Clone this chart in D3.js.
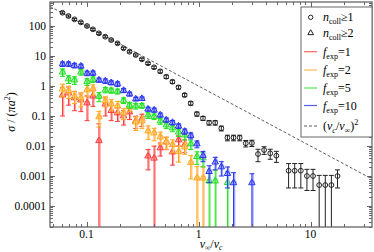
<!DOCTYPE html>
<html><head><meta charset="utf-8">
<script src="https://cdn.jsdelivr.net/npm/d3@7"></script>
<style>body{margin:0;background:#fff}svg{display:block;font-family:"Liberation Serif","DejaVu Serif",serif}</style>
</head><body><svg id="c" width="374" height="252"></svg>
<script>
// bin centres v_inf / v_c
const vBins = [0.061,0.069,0.078,0.089,0.101,0.114,0.129,0.147,0.166,0.189,0.214,0.242,0.275,0.312,0.354,0.401,0.455,0.515,0.585,0.663,0.752,0.852,0.967,1.096,1.243,1.409,1.598,1.812,2.055,2.330,2.642,2.996,3.398,3.853,4.369,4.955,5.618,6.371,7.224,8.192,9.290,10.53,11.95,13.55,15.36,17.42];
// n_coll >= 1 (all)
const allV = [277,215,167,133,100,77.6,57.1,44.0,34.1,26.5,18.1,13.9,10.8,7.76,5.71,4.20,3.09,2.04,1.39,0.905,0.501,0.265,0.117,0.0838,0.0598,0.0598,0.0389,0.0189,0.0189,0.0189,0.0123,0.0126,0.0054,0.00736,0.00571,0.00475,null,0.0015,0.0015,0.0015,0.001,0.001,0.0005,0.0005,0.0005,0.001];
const allE = [22,17,13,11,8,6.2,4.6,3.5,2.7,2.1,1.5,1.1,0.9,0.65,0.5,0.4,0.35,0.25,0.17,0.11,0.06,0.035,0.018,0.013,0.01,0.01,0.007,0.004,0.004,0.004,0.003,0.003,0.0024,0.0021,0.0021,0.0019,null,0.0011,0.0011,0.0011,0.00067,0.00067,0.00055,0.00055,0.00055,0.0006];
// f_exp = 1
const f1V = [0.50,0.58,0.40,0.34,0.27,0.46,0.015,0.25,0.15,0.126,0.10,0.136,0.068,0.08,0.0046,0.0039,0.0086,0.0136,0.0063,0.016,0.011];
const f1E = [0.4,0.35,0.25,0.2,0.2,0.25,0.04,0.15,0.08,0.06,0.05,0.06,0.03,0.035,0.003,0.006,0.004,0.006,0.004,0.006,0.005];
// f_exp = 2
const f2V = [0.79,0.68,0.46,0.40,0.74,0.79,0.093,0.32,0.25,0.215,0.126,0.20,0.063,0.068,0.0316,0.027,0.020,0.0136,0.011,0.0064,0.0093,0.0028,0.00085,0.00085];
const f2E = [0.35,0.3,0.2,0.2,0.3,0.3,0.05,0.12,0.1,0.09,0.05,0.06,0.03,0.03,0.015,0.012,0.009,0.006,0.005,0.0035,0.004,0.002,0.0012,0.0012];
// f_exp = 5
const f5V = [2.9,1.71,1.58,2.9,1.41,1.65,0.45,0.74,0.71,0.66,0.33,0.23,0.215,0.22,0.108,0.096,0.068,0.05,0.04,0.029,0.023,0.0117,0.0044,0.004,0.00068,0.00068,null,0.0006];
const f5E = [0.8,0.5,0.45,0.6,0.35,0.35,0.15,0.15,0.14,0.12,0.07,0.05,0.045,0.04,0.025,0.02,0.015,0.012,0.01,0.008,0.007,0.004,0.002,0.002,0.0009,0.0009,null,0.0008];
// f_exp = 10
const f10V = [5.4,5.4,4.8,4.6,2.65,2.7,1.58,1.47,1.29,1.17,0.71,0.54,0.37,0.38,0.17,0.158,0.108,0.074,0.0606,0.0464,0.0307,0.0223,0.0117,0.0048,0.0014,0.0029,0.002,0.0012,0.00059,null,null,0.00059];
const f10E = [0.9,0.9,0.8,0.7,0.45,0.45,0.25,0.25,0.2,0.2,0.11,0.08,0.05,0.05,0.025,0.025,0.017,0.012,0.01,0.008,0.006,0.005,0.003,0.0018,0.0008,0.0013,0.001,0.0008,0.0007,null,null,0.0006];
const xTicks = [0.1,1,10];
const xTickLabels = ["0.1","1","10"];
const yTicks = [0.0001,0.001,0.01,0.1,1,10,100];
const yTickLabels = ["0.0001","0.001","0.01","0.1","1","10","100"];
const seriesNames = ["1","2","5","10"];

const svg = d3.select("#c");
const L=50,R=372,T=2,B=227;
const x = d3.scaleLog().domain([0.0472,35.4]).range([L,R]);
const y = d3.scaleLog().domain([2e-5,631]).range([B,T]);

svg.append("defs").append("clipPath").attr("id","clip").append("rect")
  .attr("x",L).attr("y",T).attr("width",R-L).attr("height",B-T);
const plot = svg.append("g").attr("clip-path","url(#clip)");

// reference line
const lineX = [0.0472,35.4];
plot.append("path")
  .attr("d", d3.line().x(d=>x(d)).y(d=>y(1/(d*d)))(lineX))
  .attr("stroke","#333").attr("stroke-width",0.8).attr("stroke-dasharray","3,2").attr("fill","none");

function pts(vals, errs){
  const out=[];
  vals.forEach((v,i)=>{ if(v!=null) out.push({x:vBins[i],v:v,e:errs[i]}); });
  return out;
}
function drawSeries(data, col, light, kind){
  const g = plot.append("g");
  data.forEach(d=>{
    const cx = x(d.x);
    const yt = y(d.v+d.e);
    const low = d.v-d.e;
    const yb = low>2e-5 ? y(low) : B+2;
    if(light){
      g.append("line").attr("x1",cx+1).attr("x2",cx+1).attr("y1",yt-1).attr("y2",yb)
        .attr("stroke",light).attr("stroke-width",1.6);
      g.append("circle").attr("cx",cx+0.5).attr("cy",y(d.v)-0.5).attr("r",2.6).attr("fill",light).attr("stroke","none");
    }
    g.append("line").attr("x1",cx).attr("x2",cx).attr("y1",yt).attr("y2",yb)
      .attr("stroke",col).attr("stroke-width",1);
    g.append("line").attr("x1",cx-2.5).attr("x2",cx+2.5).attr("y1",yt).attr("y2",yt).attr("stroke",col).attr("stroke-width",1);
    if(low>2e-5) g.append("line").attr("x1",cx-2.5).attr("x2",cx+2.5).attr("y1",yb).attr("y2",yb).attr("stroke",col).attr("stroke-width",1);
    if(kind==="circle"){
      g.append("circle").attr("cx",cx).attr("cy",y(d.v)).attr("r",2.4).attr("fill","none").attr("stroke",col).attr("stroke-width",1);
    } else {
      g.append("path").attr("transform",`translate(${cx},${y(d.v)})`)
        .attr("d",d3.symbol(d3.symbolTriangle).size(18)()).attr("fill","none").attr("stroke",col).attr("stroke-width",1);
    }
  });
}
const cols = ["#ff3b3b","#ffa81e","#22e022","#2a35ee"];
const lights = ["#ffa0a0","#ffd08a","#9cf09c","#a0a6ff"];
drawSeries(pts(f1V,f1E), cols[0], lights[0], "tri");
drawSeries(pts(f2V,f2E), cols[1], lights[1], "tri");
drawSeries(pts(f5V,f5E), cols[2], lights[2], "tri");
drawSeries(pts(f10V,f10E), cols[3], lights[3], "tri");
drawSeries(pts(allV,allE), "#222", null, "circle");

// frame and ticks
const axCol="#666";
const minorX=[], minorY=[];
for(let e=-2;e<=2;e++) for(let k=1;k<10;k++){const v=k*Math.pow(10,e); if(v>=0.0472&&v<=35.4) minorX.push(v);}
for(let e=-5;e<=2;e++) for(let k=1;k<10;k++){const v=k*Math.pow(10,e); if(v>=2e-5&&v<=631) minorY.push(v);}
const tg = svg.append("g").attr("stroke",axCol).attr("stroke-width",1);
minorX.forEach(v=>{const len = xTicks.includes(v)?5:3; const px=Math.round(x(v))+0.5;
  tg.append("line").attr("x1",px).attr("x2",px).attr("y1",B).attr("y2",B-len);
  tg.append("line").attr("x1",px).attr("x2",px).attr("y1",T).attr("y2",T+len);});
minorY.forEach(v=>{const len = yTicks.includes(v)?5:3; const py=Math.round(y(v))+0.5;
  tg.append("line").attr("x1",L).attr("x2",L+len).attr("y1",py).attr("y2",py);
  tg.append("line").attr("x1",R).attr("x2",R-len).attr("y1",py).attr("y2",py);});
svg.append("rect").attr("x",L).attr("y",T).attr("width",R-L).attr("height",B-T)
  .attr("fill","none").attr("stroke",axCol).attr("stroke-width",1.3);

// tick labels
svg.append("g").selectAll("text").data(xTicks).join("text")
  .attr("x",d=>x(d)).attr("y",238).attr("text-anchor","middle").attr("font-size",11.5)
  .text((d,i)=>xTickLabels[i]);
svg.append("g").selectAll("text").data(yTicks).join("text")
  .attr("x",46).attr("y",d=>y(d)+4).attr("text-anchor","end").attr("font-size",11.5)
  .text((d,i)=>yTickLabels[i]);

// axis titles
const xt = svg.append("text").attr("x",211).attr("y",248).attr("text-anchor","middle").attr("font-size",12);
xt.append("tspan").attr("font-style","italic").text("v");
xt.append("tspan").attr("font-size",7.5).attr("dy",2).text("∞");
xt.append("tspan").attr("dy",-2).text("/");
xt.append("tspan").attr("font-style","italic").text("v");
xt.append("tspan").attr("font-size",7.5).attr("dy",2).attr("font-style","italic").text("c");

const yt = svg.append("text").attr("transform","translate(15,112) rotate(-90)").attr("text-anchor","middle").attr("font-size",12);
yt.append("tspan").attr("font-style","italic").text("σ");
yt.append("tspan").text(" / (");
yt.append("tspan").attr("font-style","italic").text("πa");
yt.append("tspan").attr("font-size",8).attr("dy",-5).text("2");
yt.append("tspan").attr("dy",5).text(")");

// legend
const lg = svg.append("g");
lg.append("rect").attr("x",301).attr("y",7).attr("width",71).attr("height",130).attr("fill","#fff").attr("stroke",axCol).attr("stroke-width",1);
const sx=310.7, tx=323;
const rows=[17.3,33,51.7,70,88,105.5,126];
lg.append("circle").attr("cx",sx).attr("cy",rows[0]).attr("r",2.2).attr("fill","none").attr("stroke","#222");
lg.append("path").attr("transform",`translate(${sx},${rows[1]})`).attr("d",d3.symbol(d3.symbolTriangle).size(14)()).attr("fill","none").attr("stroke","#222");
function ncoll(yy,n){
  const t=lg.append("text").attr("x",tx).attr("y",yy+4).attr("font-size",12);
  t.append("tspan").attr("font-style","italic").text("n");
  t.append("tspan").attr("font-size",8).attr("dy",3).text("coll");
  t.append("tspan").attr("dy",-3).text("≥"+n);
}
ncoll(rows[0],1); ncoll(rows[1],2);
seriesNames.forEach((n,i)=>{
  const yy=rows[2+i];
  lg.append("line").attr("x1",304).attr("x2",317).attr("y1",yy).attr("y2",yy).attr("stroke",cols[i]).attr("stroke-opacity",0.8).attr("stroke-width",1.2);
  const t=lg.append("text").attr("x",tx).attr("y",yy+4).attr("font-size",12);
  t.append("tspan").attr("font-style","italic").text("f");
  t.append("tspan").attr("font-size",8).attr("dy",3).text("exp");
  t.append("tspan").attr("dy",-3).text("="+n);
});
lg.append("line").attr("x1",304).attr("x2",317).attr("y1",rows[6]).attr("y2",rows[6]).attr("stroke","#333").attr("stroke-dasharray","3,2").attr("stroke-width",0.8);
const dt=lg.append("text").attr("x",tx).attr("y",rows[6]+4).attr("font-size",12);
dt.append("tspan").text("(");
dt.append("tspan").attr("font-style","italic").text("v");
dt.append("tspan").attr("font-size",8).attr("dy",3).attr("font-style","italic").text("c");
dt.append("tspan").attr("dy",-3).text("/");
dt.append("tspan").attr("font-style","italic").text("v");
dt.append("tspan").attr("font-size",8).attr("dy",3).text("∞");
dt.append("tspan").attr("dy",-3).text(")");
dt.append("tspan").attr("font-size",8).attr("dy",-5).text("2");
</script></body></html>
